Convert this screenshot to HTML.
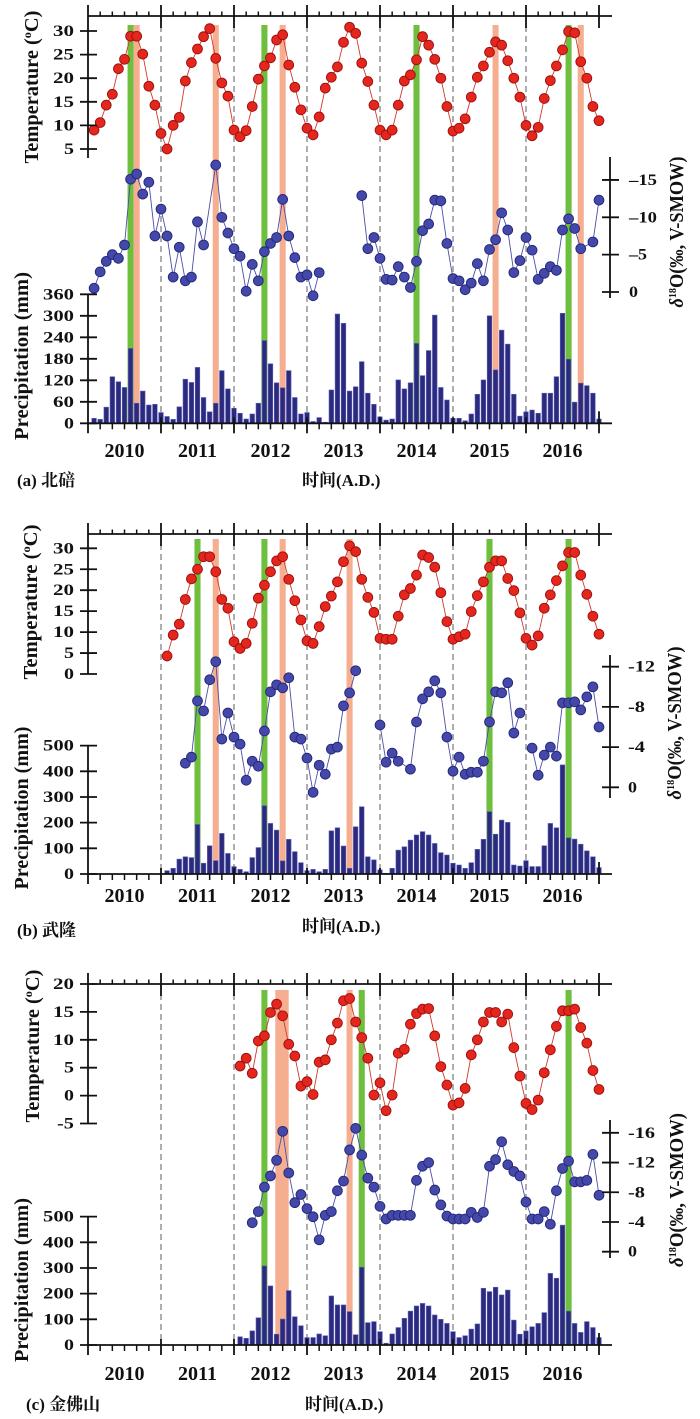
<!DOCTYPE html>
<html><head><meta charset="utf-8">
<style>
html,body{margin:0;padding:0;background:#fff;}
svg{display:block;}
.tk{font-family:"Liberation Serif",serif;font-weight:bold;font-size:16px;fill:#111;}
.yr{font-family:"Liberation Serif",serif;font-weight:bold;font-size:20px;fill:#111;}
.tt{font-family:"Liberation Serif",serif;font-weight:bold;font-size:20px;fill:#111;}
.cap{font-family:"Liberation Serif","Noto Serif CJK SC",serif;font-size:17px;font-weight:bold;fill:#111;}
.capb{font-family:"Liberation Serif","Noto Serif CJK SC",serif;font-size:17px;font-weight:bold;fill:#111;}
</style></head>
<body>
<svg id="c" xmlns="http://www.w3.org/2000/svg" width="700" height="1419" viewBox="0 0 700 1419">
<rect width="700" height="1419" fill="#fff"/>
<g id="bands"></g>
<g id="dash"></g>
<g id="bars"></g>
<g id="series"></g>
<g id="axes"></g>

<!-- ===== Panel A text ===== -->
<g class="tk" text-anchor="end">
<text x="74" y="36" textLength="21" lengthAdjust="spacingAndGlyphs">30</text>
<text x="74" y="59.6" textLength="21" lengthAdjust="spacingAndGlyphs">25</text>
<text x="74" y="83.2" textLength="21" lengthAdjust="spacingAndGlyphs">20</text>
<text x="74" y="106.8" textLength="21" lengthAdjust="spacingAndGlyphs">15</text>
<text x="74" y="130.4" textLength="21" lengthAdjust="spacingAndGlyphs">10</text>
<text x="74" y="154" textLength="10" lengthAdjust="spacingAndGlyphs">5</text>
<text x="74" y="428.3" textLength="10" lengthAdjust="spacingAndGlyphs">0</text>
<text x="74" y="406.8" textLength="21" lengthAdjust="spacingAndGlyphs">60</text>
<text x="74" y="385.3" textLength="31" lengthAdjust="spacingAndGlyphs">120</text>
<text x="74" y="363.8" textLength="31" lengthAdjust="spacingAndGlyphs">180</text>
<text x="74" y="342.3" textLength="31" lengthAdjust="spacingAndGlyphs">240</text>
<text x="74" y="320.8" textLength="31" lengthAdjust="spacingAndGlyphs">300</text>
<text x="74" y="299.3" textLength="31" lengthAdjust="spacingAndGlyphs">360</text>
</g>
<g class="tk">
<text x="629" y="185" textLength="28" lengthAdjust="spacingAndGlyphs">–15</text>
<text x="629" y="222.3" textLength="28" lengthAdjust="spacingAndGlyphs">–10</text>
<text x="629" y="259.7" textLength="18" lengthAdjust="spacingAndGlyphs">–5</text>
<text x="629" y="297" textLength="9" lengthAdjust="spacingAndGlyphs">0</text>
</g>
<g class="yr" text-anchor="middle">
<text x="124.5" y="457">2010</text><text x="197.5" y="457">2011</text><text x="270.5" y="457">2012</text><text x="343.5" y="457">2013</text><text x="416.5" y="457">2014</text><text x="489.5" y="457">2015</text><text x="562.5" y="457">2016</text>
</g>
<text class="cap" x="17" y="486">(a) 北碚</text>
<text class="capb" x="302" y="486">时间(A.D.)</text>
<text class="tt" transform="translate(38,87) rotate(-90)" text-anchor="middle" textLength="153" lengthAdjust="spacingAndGlyphs">Temperature (<tspan font-size="12" dy="-7">o</tspan><tspan dy="7">C)</tspan></text>
<text class="tt" transform="translate(28,356) rotate(-90)" text-anchor="middle" textLength="168" lengthAdjust="spacingAndGlyphs">Precipitation (mm)</text>
<text class="tt" font-size="18" transform="translate(683,232) rotate(-90)" text-anchor="middle" textLength="151" lengthAdjust="spacingAndGlyphs"><tspan font-style="italic">δ</tspan><tspan font-size="11" dy="-7">18</tspan><tspan dy="7">O(‰, V-SMOW)</tspan></text>

<!-- ===== Panel B text ===== -->
<g class="tk" text-anchor="end">
<text x="74" y="553.3" textLength="21" lengthAdjust="spacingAndGlyphs">30</text>
<text x="74" y="574.3" textLength="21" lengthAdjust="spacingAndGlyphs">25</text>
<text x="74" y="595.2" textLength="21" lengthAdjust="spacingAndGlyphs">20</text>
<text x="74" y="616.2" textLength="21" lengthAdjust="spacingAndGlyphs">15</text>
<text x="74" y="637.1" textLength="21" lengthAdjust="spacingAndGlyphs">10</text>
<text x="74" y="658" textLength="10" lengthAdjust="spacingAndGlyphs">5</text>
<text x="74" y="679" textLength="10" lengthAdjust="spacingAndGlyphs">0</text>
<text x="74" y="879" textLength="10" lengthAdjust="spacingAndGlyphs">0</text>
<text x="74" y="853.3" textLength="31" lengthAdjust="spacingAndGlyphs">100</text>
<text x="74" y="827.7" textLength="31" lengthAdjust="spacingAndGlyphs">200</text>
<text x="74" y="802" textLength="31" lengthAdjust="spacingAndGlyphs">300</text>
<text x="74" y="776.3" textLength="31" lengthAdjust="spacingAndGlyphs">400</text>
<text x="74" y="750.7" textLength="31" lengthAdjust="spacingAndGlyphs">500</text>
</g>
<g class="tk">
<text x="628" y="671.7" textLength="27" lengthAdjust="spacingAndGlyphs">-12</text>
<text x="628" y="711.9" textLength="17" lengthAdjust="spacingAndGlyphs">-8</text>
<text x="628" y="752.1" textLength="17" lengthAdjust="spacingAndGlyphs">-4</text>
<text x="628" y="792.3" textLength="9" lengthAdjust="spacingAndGlyphs">0</text>
</g>
<g class="yr" text-anchor="middle">
<text x="124.5" y="902">2010</text><text x="197.5" y="902">2011</text><text x="270.5" y="902">2012</text><text x="343.5" y="902">2013</text><text x="416.5" y="902">2014</text><text x="489.5" y="902">2015</text><text x="562.5" y="902">2016</text>
</g>
<text class="cap" x="17" y="936">(b) 武隆</text>
<text class="capb" x="302" y="932">时间(A.D.)</text>
<text class="tt" transform="translate(37,602) rotate(-90)" text-anchor="middle" textLength="155" lengthAdjust="spacingAndGlyphs">Temperature (<tspan font-size="12" dy="-7">o</tspan><tspan dy="7">C)</tspan></text>
<text class="tt" transform="translate(28,808) rotate(-90)" text-anchor="middle" textLength="163" lengthAdjust="spacingAndGlyphs">Precipitation (mm)</text>
<text class="tt" font-size="18" transform="translate(681,723) rotate(-90)" text-anchor="middle" textLength="153" lengthAdjust="spacingAndGlyphs"><tspan font-style="italic">δ</tspan><tspan font-size="11" dy="-7">18</tspan><tspan dy="7">O(‰, V-SMOW)</tspan></text>

<!-- ===== Panel C text ===== -->
<g class="tk" text-anchor="end">
<text x="74" y="989" textLength="21" lengthAdjust="spacingAndGlyphs">20</text>
<text x="74" y="1016.9" textLength="21" lengthAdjust="spacingAndGlyphs">15</text>
<text x="74" y="1044.8" textLength="21" lengthAdjust="spacingAndGlyphs">10</text>
<text x="74" y="1072.7" textLength="10" lengthAdjust="spacingAndGlyphs">5</text>
<text x="74" y="1100.6" textLength="10" lengthAdjust="spacingAndGlyphs">0</text>
<text x="74" y="1128.5" textLength="17" lengthAdjust="spacingAndGlyphs">-5</text>
<text x="74" y="1350" textLength="10" lengthAdjust="spacingAndGlyphs">0</text>
<text x="74" y="1324.3" textLength="31" lengthAdjust="spacingAndGlyphs">100</text>
<text x="74" y="1298.7" textLength="31" lengthAdjust="spacingAndGlyphs">200</text>
<text x="74" y="1273" textLength="31" lengthAdjust="spacingAndGlyphs">300</text>
<text x="74" y="1247.3" textLength="31" lengthAdjust="spacingAndGlyphs">400</text>
<text x="74" y="1221.7" textLength="31" lengthAdjust="spacingAndGlyphs">500</text>
</g>
<g class="tk">
<text x="628" y="1137.8" textLength="27" lengthAdjust="spacingAndGlyphs">-16</text>
<text x="628" y="1167.5" textLength="27" lengthAdjust="spacingAndGlyphs">-12</text>
<text x="628" y="1197.3" textLength="17" lengthAdjust="spacingAndGlyphs">-8</text>
<text x="628" y="1227" textLength="17" lengthAdjust="spacingAndGlyphs">-4</text>
<text x="628" y="1256.7" textLength="9" lengthAdjust="spacingAndGlyphs">0</text>
</g>
<g class="yr" text-anchor="middle">
<text x="124.5" y="1380">2010</text><text x="197.5" y="1380">2011</text><text x="270.5" y="1380">2012</text><text x="343.5" y="1380">2013</text><text x="416.5" y="1380">2014</text><text x="489.5" y="1380">2015</text><text x="562.5" y="1380">2016</text>
</g>
<text class="cap" x="26" y="1410">(c) 金佛山</text>
<text class="capb" x="305" y="1410">时间(A.D.)</text>
<text class="tt" transform="translate(39,1046) rotate(-90)" text-anchor="middle" textLength="153" lengthAdjust="spacingAndGlyphs">Temperature (<tspan font-size="12" dy="-7">o</tspan><tspan dy="7">C)</tspan></text>
<text class="tt" transform="translate(28,1280) rotate(-90)" text-anchor="middle" textLength="164" lengthAdjust="spacingAndGlyphs">Precipitation (mm)</text>
<text class="tt" font-size="18" transform="translate(683,1190) rotate(-90)" text-anchor="middle" textLength="154" lengthAdjust="spacingAndGlyphs"><tspan font-style="italic">δ</tspan><tspan font-size="11" dy="-7">18</tspan><tspan dy="7">O(‰, V-SMOW)</tspan></text>
</svg>

<script>
(function(){
var NS='http://www.w3.org/2000/svg';
function el(tag,a,parent){var e=document.createElementNS(NS,tag);for(var k in a)e.setAttribute(k,a[k]);parent.appendChild(e);return e;}
var G={bands:document.getElementById('bands'),dash:document.getElementById('dash'),bars:document.getElementById('bars'),series:document.getElementById('series'),axes:document.getElementById('axes')};
function X(i){return 88+6.0833*(i+1);}
function pad(n,v){var a=[];for(var i=0;i<n;i++)a.push(v);return a;}

var A={top:16,bot:423.3,bt:25,
 T:function(t){return 31+(30-t)*4.72;},P:function(p){return 423.3-p*0.3583;},D:function(v){return 292-v*7.47;},
 temp:[9.0,10.6,14.3,16.6,22.0,24.0,28.9,28.9,25.1,18.3,14.3,8.3, 5.0,10.0,11.7,19.4,23.3,26.2,28.8,30.5,24.2,19.0,16.2,9.0, 7.6,8.9,14.0,19.8,22.6,24.3,28.1,29.2,22.8,18.1,13.3,9.4, 8.0,11.8,17.9,20.2,22.4,27.6,30.8,29.5,23.2,19.3,14.3,9.0, 8.0,9.0,14.3,19.4,20.7,23.9,28.8,27.0,24.0,20.0,14.0,8.8, 9.4,11.4,16.0,20.2,22.6,25.5,27.7,27.0,23.7,20.0,16.0,10.0, 7.8,9.6,15.7,19.5,22.6,26.0,29.9,29.6,23.5,20.0,14.0,11.0],
 d:[0.5,2.7,4.1,5.0,4.5,6.3,15.1,15.8,13.1,14.7,7.5,11.1, 7.5,2.0,6.0,1.5,2.0,9.4,6.3,false,17.0,10.0,7.9,5.8, 4.8,0.1,3.7,1.5,5.4,6.5,7.3,12.4,7.5,4.6,2.0,2.3, -0.5,2.6,null,null,null,null,null,null,12.9,5.8,7.3,4.5, 1.7,1.6,3.4,2.0,0.6,4.1,8.2,9.1,12.3,12.2,6.5,1.8, 1.5,0.3,1.2,3.8,1.5,5.7,7.0,10.6,8.3,2.6,4.2,7.3, 5.6,1.7,2.5,3.4,2.9,8.3,9.8,8.5,5.8,false,6.7,12.3],
 pr:[14,11,45,130,116,100,209,56,90,51,53,30, 19,11,46,123,114,156,72,32,56,147,96,42, 28,12,26,56,231,166,113,99,147,72,26,30, 5,16,3,93,305,279,90,102,172,84,53,18, 9,12,121,96,113,223,133,203,302,100,65,14, 14,7,26,81,121,300,149,260,221,81,20,32, 37,28,84,84,130,307,179,59,112,105,84,12],
 bands:[['g',6],['s',7],['s',20],['g',28],['s',31],['g',53],['s',66],['g',78],['s',80]],
 tAx:[5,158],tT:[5,10,15,20,25,30],pAx:294.3,pT:[0,60,120,180,240,300,360],dAx:[157,298],dT:[0,5,10,15]};

var B={top:534,bot:874,bt:539,
 T:function(t){return 674-t*4.19;},P:function(p){return 874-p*0.2567;},D:function(v){return 787.3-v*10.05;},
 temp:pad(12,null).concat([4.3,9.3,11.9,17.8,22.7,25.0,28.0,28.0,24.4,17.8,15.7,7.7, 6.1,7.3,12.1,18.1,21.2,24.4,27.0,28.0,22.6,17.5,12.9,7.9, 7.3,11.3,16.1,18.6,22.0,26.8,30.6,29.2,22.6,18.3,14.7,8.5, 8.3,8.3,13.8,18.9,20.4,23.6,28.4,27.8,25.5,19.4,12.5,8.3, 8.9,9.5,14.9,18.7,22.0,25.5,27.0,27.0,22.8,19.9,14.6,8.5, 6.9,9.1,15.7,18.9,22.3,25.8,29.0,29.0,23.6,19.0,13.8,9.5]),
 d:pad(15,null).concat([2.4,3.0,8.6,7.6,10.7,12.5,4.8,7.4,5.0, 4.3,0.7,2.6,2.1,5.6,9.5,10.2,9.9,10.9,5.0,4.8,2.9, -0.5,2.2,1.3,3.8,4.0,8.1,9.4,11.6,null,null,null,6.2, 2.5,3.4,2.6,false,1.8,6.5,8.8,9.5,10.6,9.4,5.0,1.6, 3.0,1.3,1.5,1.5,2.6,6.5,9.5,9.4,10.4,5.4,7.4,null, 3.9,1.2,3.2,4.0,3.1,8.4,8.4,8.5,7.7,9.0,10.0,6.0]),
 pr:pad(12,0).concat([13,22,58,67,64,193,42,110,52,158,80,29, 18,9,64,103,266,197,171,51,135,87,44,13, 18,9,18,168,180,109,22,184,262,67,55,16, 3,22,93,106,132,152,165,152,119,83,74,42, 35,22,44,96,135,243,155,210,201,35,31,52, 29,29,110,197,180,425,141,136,116,90,67,25]),
 bands:[['g',17],['s',20],['g',28],['s',31],['s',42],['g',65],['g',78]],
 tAx:[523,674],tT:[0,5,10,15,20,25,30],pAx:745.7,pT:[0,100,200,300,400,500],dAx:[655,798],dT:[0,4,8,12]};

var C={top:984,bot:1345,bt:990,
 T:function(t){return 984+(20-t)*5.58;},P:function(p){return 1345-p*0.2567;},D:function(v){return 1251.7-v*7.43;},
 temp:pad(24,null).concat([5.3,6.7,4.0,9.8,10.7,14.9,16.4,14.3,9.2,7.1,1.7,2.5, 0.2,6.0,6.4,10.0,13.0,17.0,17.4,13.2,10.4,6.7,0.1,2.3, -2.7,0.1,7.6,8.3,12.8,14.7,15.5,15.6,10.7,5.2,1.9,-1.7, -1.3,1.3,7.3,10.0,13.2,14.9,14.9,13.2,14.6,8.6,3.5,-1.4, -2.5,-0.8,4.1,8.2,12.4,15.2,15.2,15.5,12.2,9.4,4.5,1.1]),
 d:pad(26,null).concat([3.9,5.4,8.7,10.2,12.3,16.2,10.6,6.6,7.7,5.8, 4.7,1.6,4.9,5.4,8.2,9.5,13.7,16.6,13.0,9.9,8.7,6.1, 4.4,4.9,4.9,4.9,4.9,9.6,11.5,12.0,8.3,6.3,4.8,4.4, 4.4,4.4,5.3,4.6,5.3,11.5,12.4,14.8,11.7,10.8,10.2,6.7, 4.4,4.4,5.4,3.7,8.2,11.2,12.2,9.4,9.4,9.6,13.1,7.6]),
 pr:pad(24,0).concat([32,26,55,106,308,230,42,101,212,110,75,29, 29,43,36,191,156,156,130,40,303,87,91,52, 7,43,68,104,132,152,162,152,117,100,84,52, 29,36,62,82,221,208,225,195,214,97,42,55, 71,84,126,279,260,467,132,84,49,91,68,29]),
 bands:[['g',28],['s',null,275.3,288.7],['s',42],['g',44],['g',78]],
 tAx:[973,1124],tT:[-5,0,5,10,15,20],pAx:1216.7,pT:[0,100,200,300,400,500],dAx:[1120,1258],dT:[0,4,8,12,16]};

var GREEN='#6dbf3d',SALMON='#f6ae90';
function L(x1,y1,x2,y2,g,w,extra){var a={x1:x1,y1:y1,x2:x2,y2:y2,stroke:'#111','stroke-width':w||1.8};if(extra)for(var k in extra)a[k]=extra[k];return el('line',a,g);}

function draw(p){
 p.bands.forEach(function(b){
  var x0,x1;
  if(b[1]===null){x0=b[2];x1=b[3];}else{x0=X(b[1])-3.04;x1=X(b[1])+3.04;}
  el('rect',{x:x0,y:p.bt,width:x1-x0,height:p.bot-p.bt,fill:b[0]==='g'?GREEN:SALMON},G.bands);
 });
 for(var k=1;k<=6;k++){var x=88+73*k;L(x,p.top,x,p.bot,G.dash,1.4,{stroke:'#8c8c8c','stroke-dasharray':'6,4'});}
 p.pr.forEach(function(v,i){ if(!v)return; var y=p.P(v);
  el('rect',{x:X(i)-2.3,y:y,width:4.6,height:p.bot-y,fill:'#2c2a7c',stroke:'#5a5ebe','stroke-width':0.6},G.bars);});
 function series(arr,f,lc,fill,stroke){
  var segs=[],seg=[],pts=[];
  arr.forEach(function(v,i){
   if(v===null){if(seg.length)segs.push(seg);seg=[];}
   else if(v===false){}
   else{var pt=[X(i),f(v)];seg.push(pt);pts.push(pt);}
  });
  if(seg.length)segs.push(seg);
  segs.forEach(function(s){if(s.length>1)el('polyline',{points:s.map(function(q){return q[0].toFixed(2)+','+q[1].toFixed(2);}).join(' '),fill:'none',stroke:lc,'stroke-width':0.9},G.series);});
  pts.forEach(function(q){el('circle',{cx:q[0].toFixed(2),cy:q[1].toFixed(2),r:4.9,fill:fill,stroke:stroke,'stroke-width':0.9},G.series);});
 }
 series(p.temp,p.T,'#d0392c','#e5261d','#991010');
 series(p.d,p.D,'#4a4ea8','#4448a8','#23267a');
 var g=G.axes;
 L(88,p.top,612,p.top,g,1.8);
 L(88,p.bot,612,p.bot,g,1.8);
 for(var k=0;k<7;k++){for(var m=1;m<=5;m++){var x=88+73*k+12.1667*m;L(x,p.top-4.5,x,p.top,g,1.5);L(x,p.bot,x,p.bot+6,g,1.5);}}
 for(var k=1;k<=7;k++){var x=88+73*k;L(x,p.top-11,x,p.top+12,g,1.8);L(x,p.bot-(k==7?12:6),x,p.bot+10,g,1.8);}
 L(88,Math.min(p.top-11,p.tAx[0]),88,p.tAx[1],g,1.8);
 p.tT.forEach(function(t){var y=p.T(t);L(80,y,97,y,g,1.8);});
 L(88,p.pAx,88,p.bot+10,g,1.8);
 p.pT.forEach(function(v){var y=p.P(v);L(80,y,97,y,g,1.8);});
 L(610,p.dAx[0],610,p.dAx[1],g,1.8);
 p.dT.forEach(function(v){var y=p.D(v);L(602,y,619,y,g,1.8);});
}
[A,B,C].forEach(draw);
})();
</script>
</body></html>
